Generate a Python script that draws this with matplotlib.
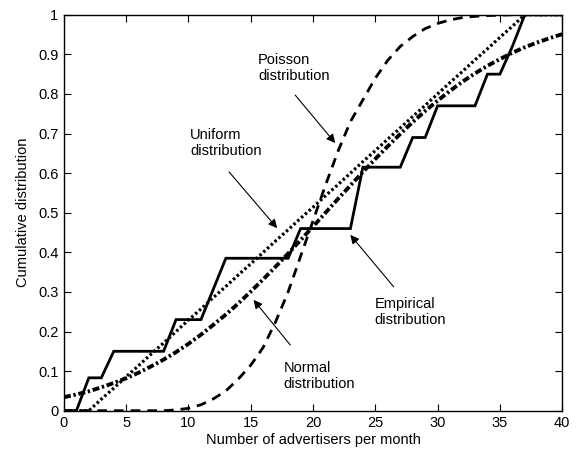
import numpy as np
import matplotlib
matplotlib.use("Agg")
import matplotlib.pyplot as plt

plt.rcParams['font.family'] = ['Liberation Sans', 'DejaVu Sans']

# advertisers per month (grid used for the fitted curves)
x_grid = list(range(0, 41))

# fitted Poisson cdf
poisson_cdf = [0, 0, 0, 0, 0, 0, 0, 0, 0, 0.002, 0.006, 0.015, 0.03, 0.05, 0.08,
               0.115, 0.16, 0.225, 0.30, 0.39, 0.48, 0.57, 0.655, 0.73, 0.785,
               0.84, 0.885, 0.92, 0.945, 0.965, 0.978, 0.987, 0.993, 0.996, 0.998,
               0.999, 1, 1, 1, 1, 1]

# fitted normal cdf (dash-dot)
normal_cdf = [0.034, 0.041, 0.049, 0.059, 0.070, 0.082, 0.096, 0.112, 0.129, 0.148,
              0.169, 0.192, 0.217, 0.243, 0.271, 0.301, 0.332, 0.364, 0.397, 0.431,
              0.465, 0.5, 0.535, 0.569, 0.603, 0.636, 0.668, 0.699, 0.729, 0.757,
              0.783, 0.808, 0.831, 0.852, 0.871, 0.888, 0.904, 0.918, 0.930, 0.941,
              0.951]

# fitted uniform cdf (dotted)
uniform_cdf = [0, 0, 0, 0.029, 0.057, 0.086, 0.114, 0.143, 0.171, 0.2, 0.229, 0.257,
               0.286, 0.314, 0.343, 0.371, 0.4, 0.429, 0.457, 0.486, 0.514, 0.543,
               0.571, 0.6, 0.629, 0.657, 0.686, 0.714, 0.743, 0.771, 0.8, 0.829,
               0.857, 0.886, 0.914, 0.943, 0.971, 1, 1, 1, 1]

# empirical cdf (solid staircase)
emp_x = [0, 1, 2, 3, 4, 8, 9, 11, 13, 18, 19, 23, 24, 27, 28, 29, 30, 33, 34, 35, 36, 37, 40]
emp_y = [0, 0, 0.083, 0.083, 0.15, 0.15, 0.23, 0.23, 0.385, 0.385, 0.46, 0.46,
         0.615, 0.615, 0.69, 0.69, 0.77, 0.77, 0.85, 0.85, 0.92, 1, 1]

x_ticks = [0, 5, 10, 15, 20, 25, 30, 35, 40]
y_ticks = [0, 0.1, 0.2, 0.3, 0.4, 0.5, 0.6, 0.7, 0.8, 0.9, 1]
y_ticklabels = ['0', '0.1', '0.2', '0.3', '0.4', '0.5', '0.6', '0.7', '0.8', '0.9', '1']

fig = plt.figure(figsize=(5.76, 4.53), dpi=100)
ax = fig.add_axes([0.111, 0.0934, 0.865, 0.874])

ax.plot(x_grid, poisson_cdf, color='k', lw=2.0, ls=(0, (3.5, 2.5)))
ax.plot(x_grid, uniform_cdf, color='k', lw=2.3, ls=(0, (0.8, 0.8)))
ax.plot(x_grid, normal_cdf, color='k', lw=2.8, ls=(0, (1.8, 0.7, 0.6, 0.7)))
ax.plot(emp_x, emp_y, color='k', lw=2.0, solid_joinstyle='miter')

fs = 10.5
arrow = dict(arrowstyle='-|>', color='k', lw=0.8, mutation_scale=13,
             shrinkA=0, shrinkB=0)

ax.text(15.57, 0.865, 'Poisson\ndistribution', fontsize=fs, ha='left', va='center')
ax.annotate('', xy=(21.78, 0.676), xytext=(18.57, 0.797), arrowprops=arrow)

ax.text(10.13, 0.677, 'Uniform\ndistribution', fontsize=fs, ha='left', va='center')
ax.annotate('', xy=(17.12, 0.461), xytext=(13.26, 0.603), arrowprops=arrow)

ax.text(17.63, 0.0876, 'Normal\ndistribution', fontsize=fs, ha='left', va='center')
ax.annotate('', xy=(15.22, 0.28), xytext=(18.17, 0.166), arrowprops=arrow)

ax.text(24.94, 0.249, 'Empirical\ndistribution', fontsize=fs, ha='left', va='center')
ax.annotate('', xy=(22.99, 0.444), xytext=(26.47, 0.313), arrowprops=arrow)

ax.set_xlim(0, 40)
ax.set_ylim(0, 1)
ax.set_xticks(x_ticks)
ax.set_yticks(y_ticks)
ax.set_yticklabels(y_ticklabels)
ax.tick_params(direction='in', top=True, right=True, length=5, width=0.8,
               labelsize=fs, pad=4)
for s in ax.spines.values():
    s.set_linewidth(1.0)
ax.set_xlabel('Number of advertisers per month', fontsize=fs, labelpad=2)
ax.set_ylabel('Cumulative distribution', fontsize=fs, labelpad=6)

fig.savefig('out.png', dpi=100)
